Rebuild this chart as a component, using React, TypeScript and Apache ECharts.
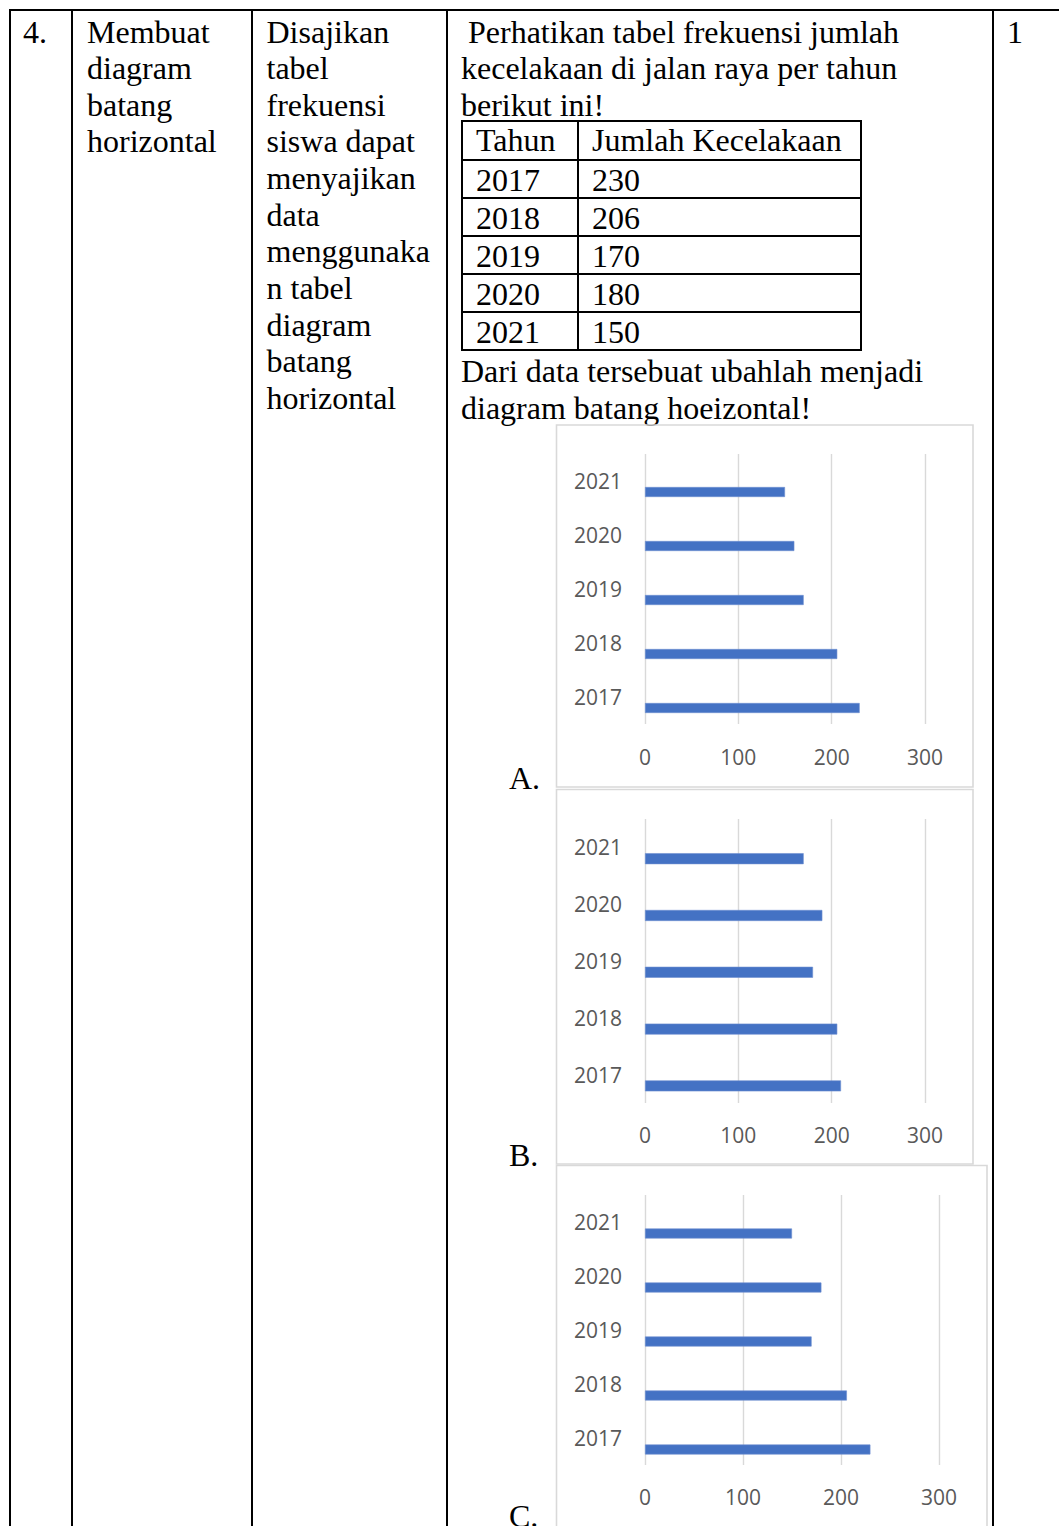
import React, { useEffect, useRef } from "react";
import * as echarts from "echarts";

// ---- data ----
const years = ["2017", "2018", "2019", "2020", "2021"];
const tableCounts = [230, 206, 170, 180, 150];
const chartAValues = [230, 206, 170, 160, 150];
const chartBValues = [210, 206, 180, 190, 170];
const chartCValues = [230, 206, 170, 180, 150];
const valueMin = 0;
const valueMax = 300;
const valueStep = 100;

const colNo = "4.";
const colIndicator = ["Membuat", "diagram", "batang", "horizontal"];
const colDesc = [
  "Disajikan",
  "tabel",
  "frekuensi",
  "siswa dapat",
  "menyajikan",
  "data",
  "menggunaka",
  "n tabel",
  "diagram",
  "batang",
  "horizontal",
];
const questionIntro = [
  "Perhatikan tabel frekuensi jumlah",
  "kecelakaan di jalan raya per tahun",
  "berikut ini!",
];
const tableHeader = ["Tahun", "Jumlah Kecelakaan"];
const questionOutro = [
  "Dari data tersebuat ubahlah menjadi",
  "diagram batang hoeizontal!",
];
const optionLetters = ["A.", "B.", "C."];
const scoreText = "1";

const SERIF = '"Liberation Serif", "Times New Roman", serif';
const SANS = '"Open Sans", "Liberation Sans", sans-serif';
const FS = 32;
const LINE = 36.65;
const BAR_COLOR = "#4472C4";
const GRID_COLOR = "#d9d9d9";
const LABEL_COLOR = "#595959";

function txt(text: string, x: number, y: number, extra: any = {}) {
  return {
    type: "text",
    x,
    y,
    silent: true,
    style: {
      text,
      fill: "#000",
      fontSize: FS,
      fontFamily: SERIF,
      align: "left",
      verticalAlign: "middle",
      textAlign: "left",
      textVerticalAlign: "middle",
      ...extra,
    },
  };
}

function ln(x1: number, y1: number, x2: number, y2: number, w = 2, c = "#000") {
  return {
    type: "line",
    silent: true,
    shape: { x1, y1, x2, y2 },
    style: { stroke: c, lineWidth: w },
  };
}

function frame(x: number, y: number, w: number, h: number) {
  return {
    type: "rect",
    silent: true,
    shape: { x, y, width: w, height: h },
    style: { fill: "none", stroke: GRID_COLOR, lineWidth: 1.6 },
  };
}

const charts = [
  { values: chartAValues, left: 645, top: 454, width: 280, height: 270, barW: 10, gap: "120%", lm: 22 },
  { values: chartBValues, left: 645, top: 819, width: 280, height: 284, barW: 11, gap: "105%", lm: 21.5 },
  { values: chartCValues, left: 645, top: 1195, width: 294, height: 270, barW: 10, gap: "130%", lm: 21 },
];

export default function App() {
  const ref = useRef<HTMLDivElement>(null);

  useEffect(() => {
    if (!ref.current) return;
    const chart = echarts.init(ref.current, null, { renderer: "svg" });

    const graphics: any[] = [];
    // outer table lines
    graphics.push(ln(9, 10, 1059, 10));
    [10, 72, 252, 447, 993].forEach((x) => graphics.push(ln(x, 9, x, 1526)));

    // col 1 / 2 / 3
    graphics.push(txt(colNo, 23, 31.5));
    colIndicator.forEach((t, i) => graphics.push(txt(t, 87, 31.5 + i * LINE)));
    colDesc.forEach((t, i) => graphics.push(txt(t, 266.5, 31.5 + i * LINE)));

    // col 4 intro
    questionIntro.forEach((t, i) => graphics.push(txt(t, i === 0 ? 468 : 461, 31.5 + i * LINE)));

    // inner table
    const tTop = 121;
    const rowH = [39, 38, 38, 38, 38, 38];
    let yy = tTop;
    const rowYs = [tTop];
    rowH.forEach((h) => {
      yy += h;
      rowYs.push(yy);
    });
    rowYs.forEach((y) => graphics.push(ln(461, y, 862, y, 2)));
    [462, 578, 861].forEach((x) => graphics.push(ln(x, tTop - 1, x, rowYs[rowYs.length - 1] + 1, 2)));
    graphics.push(txt(tableHeader[0], 476, 140));
    graphics.push(txt(tableHeader[1], 592, 140));
    years.forEach((yr, i) => {
      const cy = 179.5 + i * 38;
      graphics.push(txt(yr, 476, cy));
      graphics.push(txt(String(tableCounts[i]), 592, cy));
    });

    questionOutro.forEach((t, i) => graphics.push(txt(t, 461, 371 + i * LINE)));

    graphics.push(txt(scoreText, 1007, 31.5));

    // chart frames
    graphics.push(frame(556.5, 425, 416.5, 362));
    graphics.push(frame(556.5, 789.5, 416.5, 374.5));
    graphics.push(frame(556.5, 1165.5, 430.5, 380));

    // option letters
    graphics.push(txt(optionLetters[0], 509, 777.5));
    graphics.push(txt(optionLetters[1], 509, 1155));
    graphics.push(txt(optionLetters[2], 509, 1516));

    const grid: any[] = [];
    const xAxis: any[] = [];
    const yAxis: any[] = [];
    const series: any[] = [];

    charts.forEach((c, idx) => {
      grid.push({ left: c.left, top: c.top, width: c.width, height: c.height, containLabel: false });
      xAxis.push({
        type: "value",
        gridIndex: idx,
        min: valueMin,
        max: valueMax,
        interval: valueStep,
        axisLine: { show: false },
        axisTick: { show: false },
        axisLabel: { color: LABEL_COLOR, fontSize: 21, fontFamily: SANS, margin: c.lm },
        splitLine: { show: true, lineStyle: { color: GRID_COLOR, width: 1.4 } },
      });
      yAxis.push({
        type: "category",
        gridIndex: idx,
        data: years,
        axisLine: { show: false },
        axisTick: { show: false },
        axisLabel: { color: LABEL_COLOR, fontSize: 21, fontFamily: SANS, margin: 23 },
        splitLine: { show: false },
      });
      series.push({
        type: "bar",
        name: "pad" + idx,
        xAxisIndex: idx,
        yAxisIndex: idx,
        data: years.map(() => null),
        barWidth: c.barW,
        barGap: c.gap,
        itemStyle: { color: "transparent" },
      });
      series.push({
        type: "bar",
        name: "Jumlah Kecelakaan " + optionLetters[idx],
        xAxisIndex: idx,
        yAxisIndex: idx,
        data: c.values,
        barWidth: c.barW,
        barGap: c.gap,
        itemStyle: { color: BAR_COLOR, borderColor: "#6e8fd0", borderWidth: 0.6 },
      });
    });

    chart.setOption({
      animation: false,
      backgroundColor: "#ffffff",
      grid,
      xAxis,
      yAxis,
      series,
      graphic: graphics,
    });

    return () => chart.dispose();
  }, []);

  return (
    <div
      ref={ref}
      style={{ position: "absolute", left: 0, top: 0, width: 1059, height: 1526 }}
    />
  );
}
